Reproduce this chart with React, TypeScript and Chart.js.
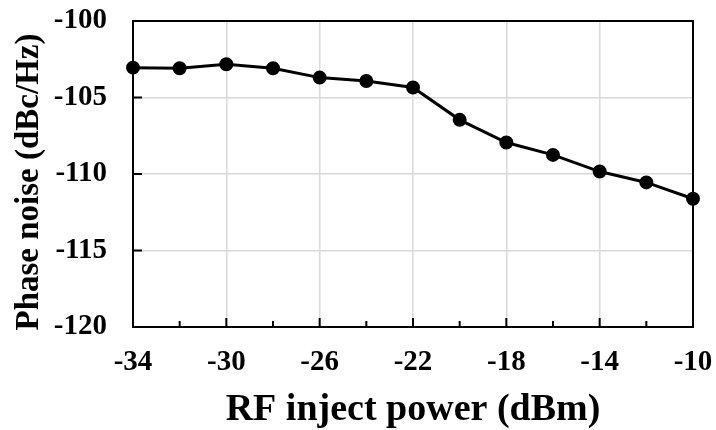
import { useEffect, useRef } from "react";
import { Chart, registerables } from "chart.js";

Chart.register(...registerables);

// Measured phase noise versus injected RF power
const injectPower = [-34, -32, -30, -28, -26, -24, -22, -20, -18, -16, -14, -12, -10];
const phaseNoise = [
  -103.05, -103.09, -102.83, -103.09, -103.7, -103.92, -104.35, -106.46, -107.94, -108.75,
  -109.84, -110.55, -111.62,
];

const xTicks = [-34, -30, -26, -22, -18, -14, -10];
const xMinorTicks = [-32, -28, -24, -20, -16, -12];
const yTicks = [-120, -115, -110, -105, -100];

const xTitle = "RF inject power (dBm)";
const yTitle = "Phase noise (dBc/Hz)";

const FONT = "'Liberation Serif', 'Times New Roman', serif";
const GRID = "#d9d9d9";

// Frame, inward tick marks and axis titles
const framePlugin = {
  id: "frame",
  beforeDatasetsDraw(chart: any) {
    const { ctx, chartArea } = chart;
    const { left, right, top, bottom } = chartArea;
    const xs = chart.scales.x;
    const ys = chart.scales.y;
    ctx.save();
    ctx.strokeStyle = "#000";
    ctx.lineWidth = 2;
    ctx.beginPath();
    for (const v of xTicks) {
      const px = xs.getPixelForValue(v);
      ctx.moveTo(px, bottom);
      ctx.lineTo(px, bottom - 9);
    }
    for (const v of xMinorTicks) {
      const px = xs.getPixelForValue(v);
      ctx.moveTo(px, bottom);
      ctx.lineTo(px, bottom - 6);
    }
    for (const v of yTicks) {
      const py = ys.getPixelForValue(v);
      ctx.moveTo(left, py);
      ctx.lineTo(left + 9, py);
    }
    ctx.stroke();
    ctx.strokeRect(left, top, right - left, bottom - top);
    ctx.restore();
  },
  afterDraw(chart: any) {
    const { ctx, chartArea } = chart;
    const { left, right, top, bottom } = chartArea;
    ctx.save();
    ctx.fillStyle = "#000";
    ctx.textAlign = "center";
    ctx.textBaseline = "alphabetic";
    ctx.font = `bold 38px ${FONT}`;
    ctx.fillText(xTitle, (left + right) / 2, 420);
    ctx.translate(38, (top + bottom) / 2 + 8);
    ctx.rotate(-Math.PI / 2);
    ctx.font = `bold 33px ${FONT}`;
    ctx.fillText(yTitle, 0, 0);
    ctx.restore();
  },
};

export default function App() {
  const canvasRef = useRef<HTMLCanvasElement | null>(null);

  useEffect(() => {
    document.body.style.margin = "0";
    const canvas = canvasRef.current;
    if (!canvas) return;

    const tickFont = { family: FONT, size: 29, weight: "bold" as const };

    const chart = new Chart(canvas, {
      type: "scatter",
      data: {
        datasets: [
          {
            data: injectPower.map((x, i) => ({ x, y: phaseNoise[i] })),
            showLine: true,
            borderColor: "#000",
            backgroundColor: "#000",
            borderWidth: 3,
            pointRadius: 5.5,
            pointHoverRadius: 5.5,
            pointBackgroundColor: "#000",
            pointBorderColor: "#000",
            clip: false as any,
          },
        ],
      },
      options: {
        responsive: false,
        animation: false,
        devicePixelRatio: 1,
        layout: { padding: { top: 21, right: 23, left: 0, bottom: 0 } },
        plugins: {
          legend: { display: false },
          tooltip: { enabled: false },
        },
        scales: {
          x: {
            type: "linear",
            min: -34,
            max: -10,
            afterBuildTicks: (s: any) => {
              s.ticks = xTicks.map((value) => ({ value }));
            },
            afterFit: (s: any) => {
              s.height = 103;
              s.paddingLeft = 0;
              s.paddingRight = 0;
            },
            grid: { color: GRID, lineWidth: 1.5, drawTicks: false },
            border: { display: false },
            ticks: {
              font: tickFont,
              color: "#000",
              padding: 18,
              maxRotation: 0,
              callback: (v: any) => String(v),
            },
          },
          y: {
            type: "linear",
            min: -120,
            max: -100,
            afterBuildTicks: (s: any) => {
              s.ticks = yTicks.map((value) => ({ value }));
            },
            afterFit: (s: any) => {
              s.width = 133;
              s.paddingTop = 0;
              s.paddingBottom = 0;
            },
            grid: { color: GRID, lineWidth: 1.5, drawTicks: false },
            border: { display: false },
            ticks: {
              font: tickFont,
              color: "#000",
              padding: 26,
              callback: (v: any) => String(v),
            },
          },
        },
      },
      plugins: [framePlugin],
    });

    return () => chart.destroy();
  }, []);

  return (
    <div style={{ width: 716, height: 430 }}>
      <canvas ref={canvasRef} width={716} height={430} />
    </div>
  );
}
